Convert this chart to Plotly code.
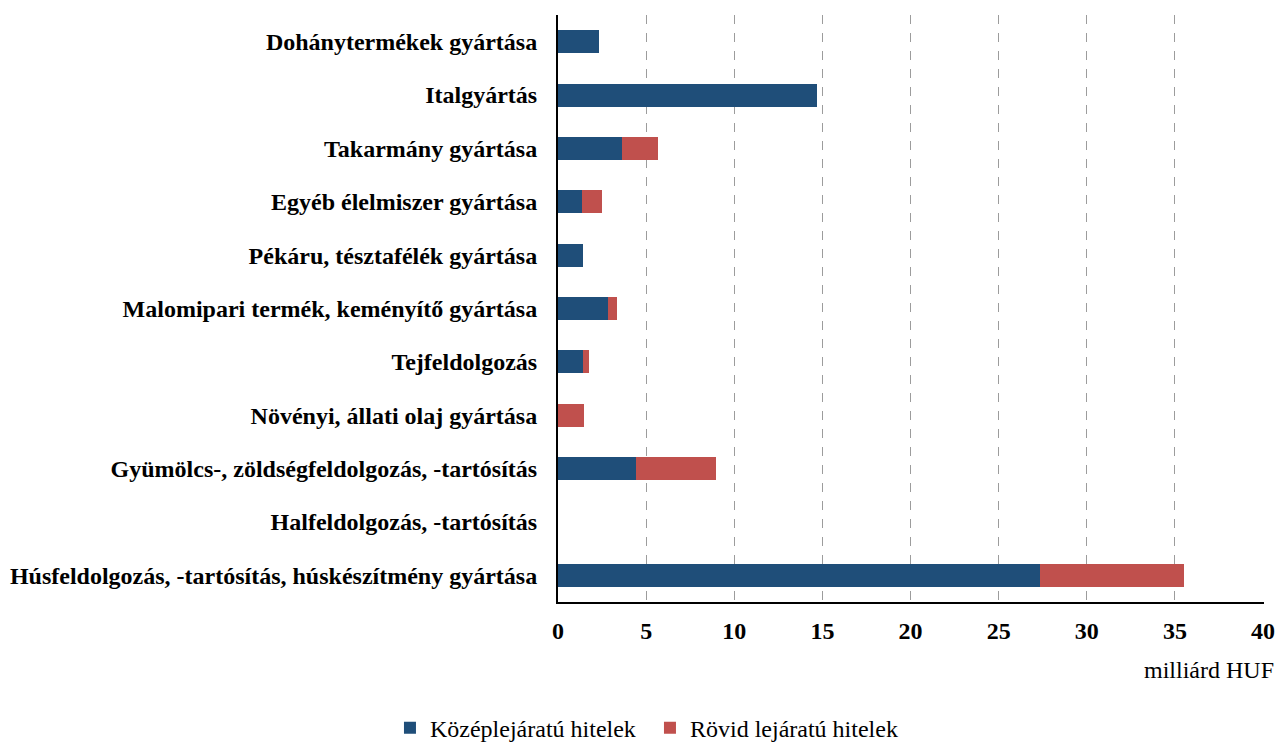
import plotly.graph_objects as go

categories = [
    "Húsfeldolgozás, -tartósítás, húskészítmény gyártása",
    "Halfeldolgozás, -tartósítás",
    "Gyümölcs-, zöldségfeldolgozás, -tartósítás",
    "Növényi, állati olaj gyártása",
    "Tejfeldolgozás",
    "Malomipari termék, keményítő gyártása",
    "Pékáru, tésztafélék gyártása",
    "Egyéb élelmiszer gyártása",
    "Takarmány gyártása",
    "Italgyártás",
    "Dohánytermékek gyártása",
]
kozep = [27.33, 0.0, 4.43, 0.0, 1.44, 2.82, 1.44, 1.35, 3.64, 14.72, 2.33]
rovid = [8.20, 0.0, 4.53, 1.48, 0.30, 0.53, 0.0, 1.17, 2.04, 0.0, 0.0]
x_ticks = [0, 5, 10, 15, 20, 25, 30, 35, 40]

BLUE = "#1F4E79"
RED = "#C0504D"
FONT = "Liberation Serif, Times New Roman, serif"

fig = go.Figure()
fig.add_trace(go.Bar(y=categories, x=kozep, orientation="h", name="Középlejáratú hitelek",
                     marker=dict(color=BLUE, line=dict(width=0))))
fig.add_trace(go.Bar(y=categories, x=rovid, orientation="h", name="Rövid lejáratú hitelek",
                     marker=dict(color=RED, line=dict(width=0))))

fig.update_layout(
    barmode="stack",
    bargap=0.57,
    width=1276, height=744,
    margin=dict(l=558, r=12, t=15, b=142, autoexpand=False),
    plot_bgcolor="white", paper_bgcolor="white",
    font=dict(family=FONT, color="black"),
    showlegend=True,
    legend=dict(orientation="h", x=-0.238, xanchor="left", y=-0.215, yanchor="middle",
                font=dict(family=FONT, size=24, color="black"),
                traceorder="normal", itemwidth=30, entrywidth=215, entrywidthmode="pixels"),
    xaxis=dict(range=[0, 40.05], tickvals=x_ticks, ticktext=[f"<b>{v}</b>" for v in x_ticks],
               tickfont=dict(family=FONT, size=24, color="black"),
               showgrid=True, gridcolor="#9C9C9C", griddash="dash", gridwidth=1,
               showline=True, linecolor="black", linewidth=2,
               zeroline=False, ticks="", ticklabelstandoff=6, automargin=False),
    yaxis=dict(tickfont=dict(family=FONT, size=24, color="black"),
               categoryorder="array", categoryarray=categories,
               tickvals=categories, ticktext=[f"<b>{c}</b>" for c in categories],
               showline=True, linecolor="black", linewidth=2,
               showgrid=False, ticks="", ticklabelstandoff=14, zeroline=False, automargin=False),
    annotations=[dict(text="milliárd HUF", xref="paper", yref="paper", x=1.0175, xanchor="right",
                      y=-0.116, yanchor="middle", showarrow=False,
                      font=dict(family=FONT, size=24, color="black"))],
)

fig.write_html("out.html", config={"displayModeBar": False},
               post_script="document.body.style.margin='0';")
